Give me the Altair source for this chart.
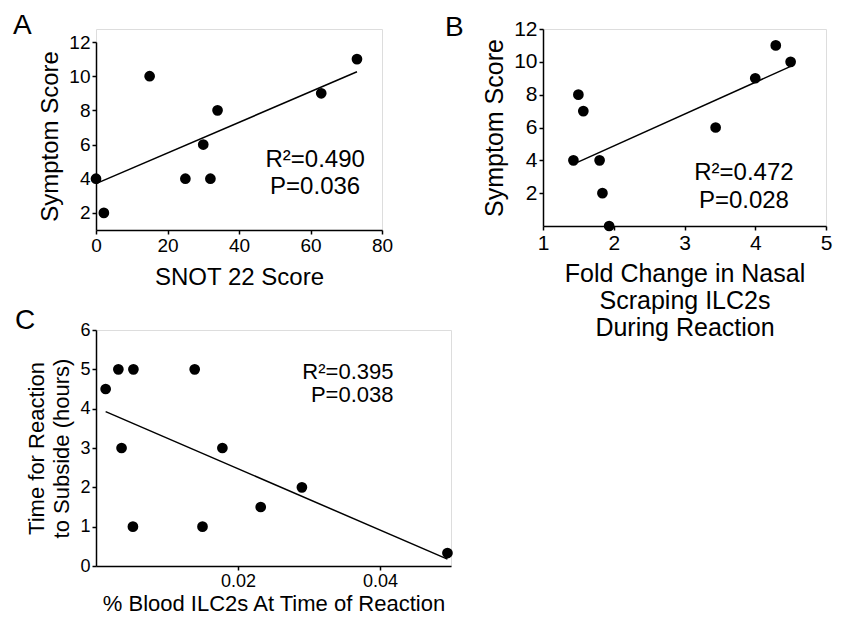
import altair as alt
import pandas as pd

FONT = "Liberation Sans"

# Panel A
a_x = [0, 2.2, 15, 25, 30, 32, 34, 63, 73]
a_y = [4, 2, 10, 4, 6, 4, 8, 9, 11]
a_ann = ["R²=0.490", "P=0.036"]
a_ann_pos = [61.3, 4.69]
# Panel B
b_x = [1.43, 1.5, 1.57, 1.8, 1.84, 1.935, 3.44, 4.0, 4.29, 4.5]
b_y = [4, 8, 7, 4, 2, 0, 6, 9, 11, 10]
b_ann = ["R²=0.472", "P=0.028"]
b_ann_pos = [3.84, 2.8]
# Panel C
c_x = [0.00136, 0.00315, 0.00527, 0.0036, 0.0052, 0.0139, 0.015, 0.0178, 0.0232, 0.029, 0.0495]
c_y = [4.5, 5, 5, 3, 1, 5, 1, 3, 1.5, 2, 0.33]
c_ann = ["R²=0.395", "P=0.038"]
c_ann_pos = [0.0419, 4.75]


def panel(xs, ys, ann, ann_pos, letter, xtitle, ytitle, xdom, ydom, xticks, yticks,
          w, h, yrange, xfmt, tick_fs, title_fs, ann_fs, ann_align, ann_lh,
          letter_dx, letter_dy, title_lh, x_title_pad):
    df = pd.DataFrame({"x": xs, "y": ys})
    adf = pd.DataFrame({"x": [ann_pos[0]], "y": [ann_pos[1]]})
    axis_common = dict(
        domainColor="black", domainWidth=1.5, tickColor="black", tickWidth=1.5,
        tickSize=4, labelColor="black", labelFont=FONT, labelFontSize=tick_fs,
        titleFont=FONT, titleFontSize=title_fs, titleFontWeight="normal",
        titleColor="black", grid=False, titleLineHeight=title_lh,
        labelOverlap=False, labelFlush=False,
    )
    xaxis = alt.Axis(title=xtitle, values=xticks, format=xfmt, labelPadding=2,
                     titlePadding=x_title_pad, **axis_common)
    yaxis = alt.Axis(title=ytitle, values=yticks, labelPadding=2, titlePadding=6,
                     **axis_common)
    yscale_args = dict(domain=ydom, nice=False, zero=False)
    if yrange is not None:
        yscale_args["range"] = yrange
    X = alt.X("x:Q", scale=alt.Scale(domain=xdom, nice=False, zero=False), axis=xaxis)
    Y = alt.Y("y:Q", scale=alt.Scale(**yscale_args), axis=yaxis)
    pts = alt.Chart(df).mark_circle(size=115, color="black", opacity=1)
    line = alt.Chart(df).transform_regression("x", "y").mark_line(
        color="black", strokeWidth=1.5)
    txt = alt.Chart(adf).mark_text(
        text=ann, font=FONT, fontSize=ann_fs, align=ann_align, baseline="alphabetic",
        lineHeight=ann_lh, color="black")
    return alt.layer(pts, line, txt).encode(x=X, y=Y).properties(
        width=w, height=h,
        title=alt.TitleParams(text=letter, anchor="start", frame="group", fontSize=28,
                              fontWeight="normal", font=FONT, color="black",
                              dx=letter_dx, dy=letter_dy, offset=0),
    )


pa = panel(a_x, a_y, a_ann, a_ann_pos, "A", "SNOT 22 Score", "Symptom Score",
           [0, 80], [1, 12], [0, 20, 40, 60, 80], [2, 4, 6, 8, 10, 12],
           286, 201, [201, 13], "d", 19, 24, 24, "center", 27, -83, 11, 27, 10)
pb = panel(b_x, b_y, b_ann, b_ann_pos, "B",
           ["Fold Change in Nasal", "Scraping ILC2s", "During Reaction"], "Symptom Score",
           [1, 5], [0, 12], [1, 2, 3, 4, 5], [2, 4, 6, 8, 10, 12],
           283, 197, None, "d", 21, 25, 24, "center", 28, -98, 24, 27, 8)
pc = panel(c_x, c_y, c_ann, c_ann_pos, "C", "% Blood ILC2s At Time of Reaction",
           ["Time for Reaction", "to Subside (hours)"],
           [0, 0.05], [0, 6], [0.02, 0.04], [0, 1, 2, 3, 4, 5, 6],
           355, 236, None, ".2f", 18, 22, 22, "right", 23, -81, 14, 25, 3)

chart = alt.concat(pa, pb, pc, columns=2, spacing={"row": 100, "column": 92},
                   bounds="flush").properties(
    padding={"left": 4, "top": 3, "right": 0, "bottom": 0}
).configure_view(stroke="transparent").configure(background="white")

chart.save("out.html", embed_options={"renderer": "svg", "actions": False})
